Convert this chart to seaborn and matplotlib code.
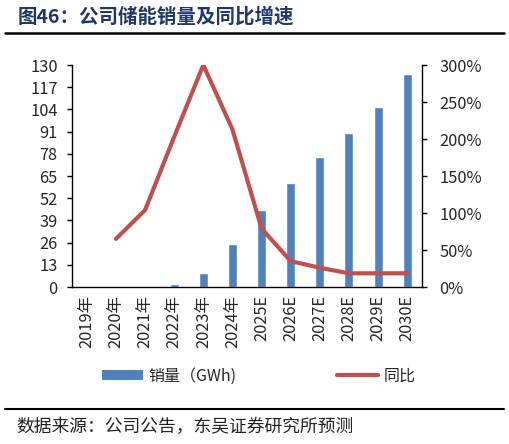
import matplotlib
matplotlib.use("Agg")
import matplotlib.pyplot as plt
import seaborn as sns
import pandas as pd
from matplotlib.lines import Line2D
from matplotlib.patches import Patch

categories = ["2019年", "2020年", "2021年", "2022年", "2023年", "2024年",
              "2025E", "2026E", "2027E", "2028E", "2029E", "2030E"]
sales_gwh = [0, 0, 0.5, 2, 8, 25, 45, 61, 76, 90, 105.5, 125]
yoy_categories = categories[1:]
yoy_pct = [65, 104, 203, 300, 213, 79, 35, 26, 18.5, 18.5, 18.5]
left_ticks = [0, 13, 26, 39, 52, 65, 78, 91, 104, 117, 130]
right_ticks = [0, 50, 100, 150, 200, 250, 300]

sns.set_style("white")
plt.rcParams['font.family'] = ['Noto Sans CJK SC', 'DejaVu Sans']

bar_color = "#4F81BD"
line_color = "#C0504D"
tick_fs = 11.8

fig = plt.figure(figsize=(5.09, 4.44), dpi=100)
ax = fig.add_axes([0.142, 0.3536, 0.6865, 0.5])

df_bar = pd.DataFrame({"cat": categories, "val": sales_gwh})
sns.barplot(data=df_bar, x="cat", y="val", color=bar_color, width=0.31,
            saturation=1, ax=ax, order=categories)
ax.set_ylim(0, 130)
ax.set_xlim(-0.5, len(categories) - 0.5)
ax.set_yticks(left_ticks)
ax.set_yticklabels([str(t) for t in left_ticks], fontsize=tick_fs)
ax.set_xlabel("")
ax.set_ylabel("")
ax.tick_params(axis="x", rotation=90, labelsize=tick_fs, length=0, pad=6)
ax.tick_params(axis="y", direction="out", length=3.5, width=1, color="black", left=True, pad=7)
for s in ["top", "right"]:
    ax.spines[s].set_visible(False)
for s in ["left", "bottom"]:
    ax.spines[s].set_color("black")
    ax.spines[s].set_linewidth(1)

ax2 = ax.twinx()
df_line = pd.DataFrame({"cat": yoy_categories, "val": yoy_pct})
sns.lineplot(data=df_line, x="cat", y="val", color=line_color, linewidth=3,
             ax=ax2, sort=False)
ax2.set_ylim(0, 300)
ax2.set_yticks(right_ticks)
ax2.set_yticklabels([f"{t}%" for t in right_ticks], fontsize=tick_fs)
ax2.set_ylabel("")
ax2.set_xlabel("")
ax2.tick_params(axis="y", direction="out", length=3.5, width=1, color="black", right=True, pad=9)
for s in ["top", "left", "bottom"]:
    ax2.spines[s].set_visible(False)
ax2.spines["right"].set_visible(True)
ax2.spines["right"].set_color("black")
ax2.spines["right"].set_linewidth(1)
ax.set_xlim(-0.5, len(categories) - 0.5)

# legend
handles = [Patch(facecolor=bar_color, edgecolor="none"),
           Line2D([0], [0], color=line_color, linewidth=3)]
leg = fig.legend(handles, ["销量（GWh)", "同比"], loc="center",
                 bbox_to_anchor=(0.508, 0.153), ncol=2, frameon=False,
                 fontsize=11.5, columnspacing=6.3, handlelength=2.6,
                 handletextpad=0.3, handleheight=0.6)

# title and source
fig.text(0.035, 0.962, "图46：公司储能销量及同比增速", fontsize=14,
         fontweight="bold", color="#1F3864", va="center", ha="left")
fig.add_artist(Line2D([0.01, 0.99], [0.926, 0.926], color="black", linewidth=1.8))
fig.add_artist(Line2D([0.01, 0.99], [0.079, 0.079], color="black", linewidth=1.5))
fig.text(0.033, 0.038, "数据来源：公司公告，东吴证券研究所预测", fontsize=12.8,
         color="#222222", va="center", ha="left")

fig.savefig("out.png", dpi=100)
